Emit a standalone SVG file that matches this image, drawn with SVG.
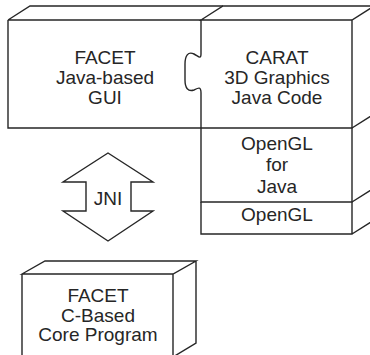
<svg xmlns="http://www.w3.org/2000/svg" width="370" height="355" viewBox="0 0 370 355">
<style>
.s{fill:none;stroke:#262626;stroke-width:1.4;stroke-linejoin:miter}
text{font-family:"Liberation Sans",Arial,sans-serif;font-size:19px;fill:#262626;text-anchor:middle}
</style>
<rect width="370" height="355" fill="#fff"/>
<g id="facet-gui">
<path class="s" d="M8,20 L30,6 L223,6 M8,20 H201 M8,20 V128 H201"/>
<text x="105" y="64">FACET</text>
<text x="105" y="84">Java-based</text>
<text x="105" y="104">GUI</text>
</g>
<g id="carat">
<path class="s" d="M201,20 L223,6 L374,6 L352,20 Z M352,20 V128 H201"/>
<text x="277" y="64">CARAT</text>
<text x="277" y="84">3D Graphics</text>
<text x="277" y="104">Java Code</text>
</g>
<g id="opengl-java">
<path class="s" d="M201,128 V202 H352 V128 M352,128 L374,114"/>
<text x="277" y="150">OpenGL</text>
<text x="277" y="171">for</text>
<text x="277" y="193">Java</text>
</g>
<g id="opengl">
<path class="s" d="M201,202 V234 H352 V202 M352,202 L374,188 M352,234 L374,220"/>
<text x="277" y="221">OpenGL</text>
</g>
<g id="connectors">
<path class="s" d="M201,20 V54 C201,60 198,56 194,54 C188,51 185,56 185,64 V80 C185,88 188,92 194,90 C198,88 201,86 201,93 V128"/>
<polygon class="s" points="108,153 153,182 131,182 131,211 153,211 108,241 63,211 86,211 86,182 63,182"/>
<text x="108" y="205">JNI</text>
</g>
<g id="facet-core">
<path class="s" d="M22,274 L45,261 H196 L173,274 Z M196,261 V343 L173,357 M22,274 V358 M173,274 V358"/>
<text x="98" y="302">FACET</text>
<text x="98" y="322">C-Based</text>
<text x="98" y="341">Core Program</text>
</g>
</svg>
